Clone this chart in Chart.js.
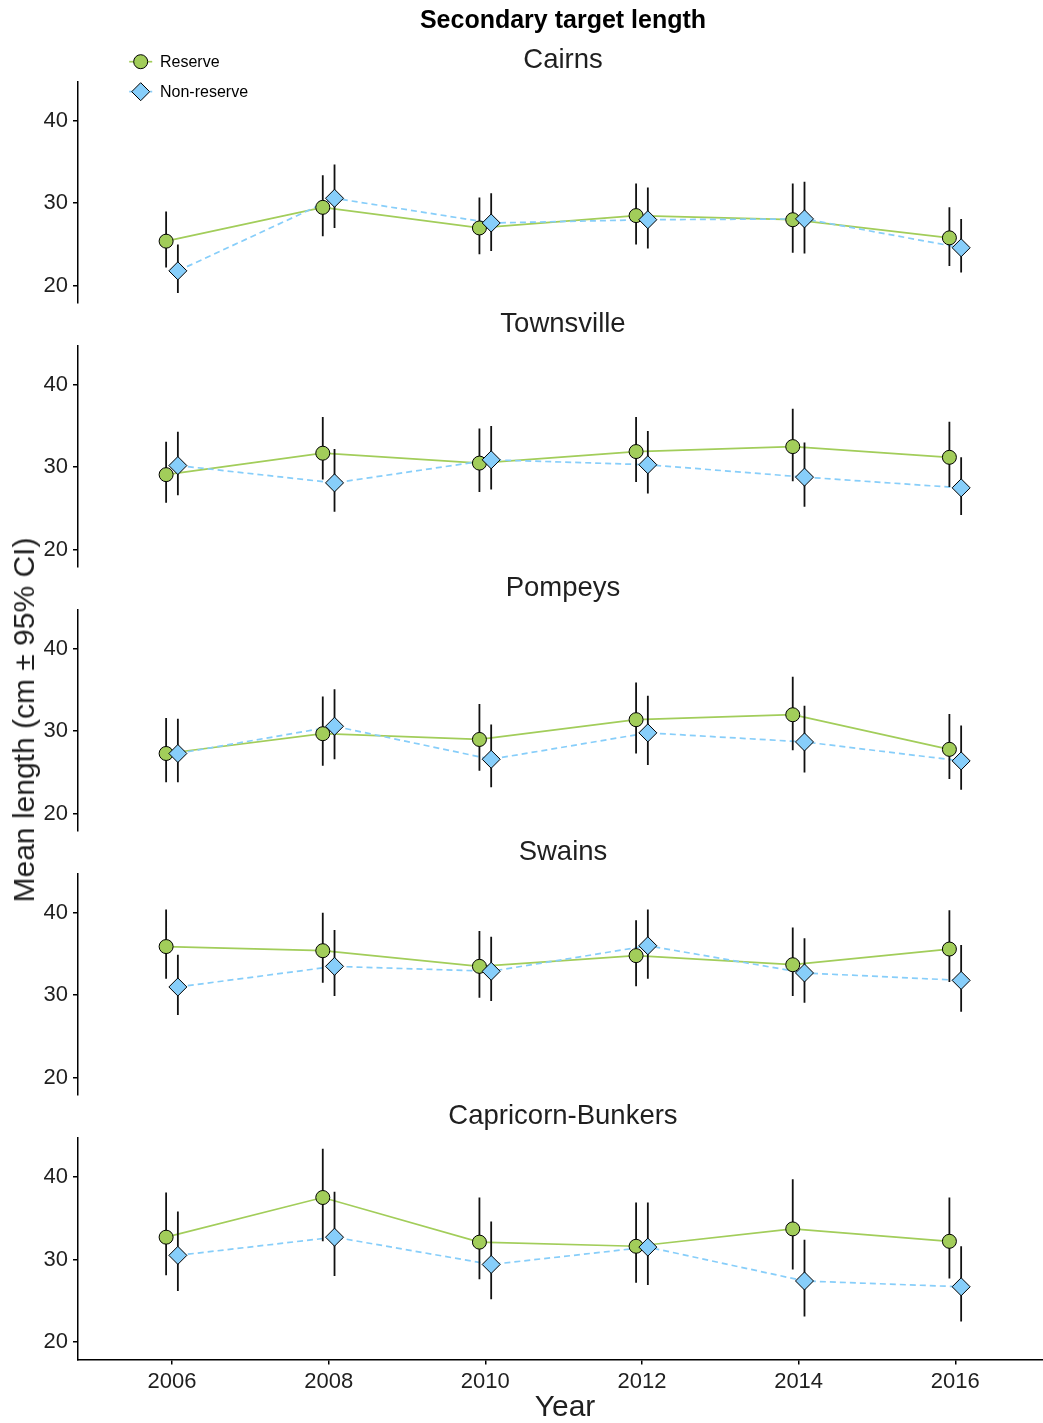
<!DOCTYPE html>
<html>
<head>
<meta charset="utf-8">
<title>Secondary target length</title>
<script src="https://cdn.jsdelivr.net/npm/chart.js@4.4.1/dist/chart.umd.min.js"></script>
<style>
  html, body { margin: 0; padding: 0; background: #fff; }
  #fig { position: relative; width: 1043px; height: 1423px; overflow: hidden;
         font-family: 'Liberation Sans', Arial, Helvetica, sans-serif; color: #000; background: #fff; }
  #fig canvas { position: absolute; left: 0; }
  .txt { position: absolute; white-space: nowrap; }
</style>
</head>
<body>
<div id="fig"></div>
<script>
// ---- data -------------------------------------------------------------
const years = [2006, 2008, 2010, 2012, 2014, 2016];
const lengthTicks = [20, 30, 40];
const regionNames = ['Cairns', 'Townsville', 'Pompeys', 'Swains', 'Capricorn-Bunkers'];
const seriesNames = ['Reserve', 'Non-reserve'];

// mean length (cm) with lower / upper 95% CI, per region and zoning
const cairnsReserve      = [25.4, 29.5, 27.0, 28.5, 28.0, 25.8];
const cairnsReserveLo    = [22.2, 26.0, 23.8, 25.0, 24.0, 22.4];
const cairnsReserveHi    = [29.0, 33.4, 30.7, 32.4, 32.4, 29.5];
const cairnsNonReserve   = [21.8, 30.6, 27.6, 28.0, 28.1, 24.6];
const cairnsNonReserveLo = [19.1, 27.0, 24.2, 24.5, 23.9, 21.6];
const cairnsNonReserveHi = [25.0, 34.7, 31.2, 31.9, 32.6, 28.1];

const townsvilleReserve      = [29.1, 31.7, 30.5, 31.9, 32.5, 31.2];
const townsvilleReserveLo    = [25.7, 28.5, 27.0, 28.2, 28.3, 27.6];
const townsvilleReserveHi    = [33.1, 36.1, 34.7, 36.1, 37.1, 35.5];
const townsvilleNonReserve   = [30.2, 28.1, 30.9, 30.3, 28.8, 27.5];
const townsvilleNonReserveLo = [26.6, 24.6, 27.3, 26.8, 25.2, 24.2];
const townsvilleNonReserveHi = [34.3, 32.2, 35.0, 34.4, 33.0, 31.2];

const pompeysReserve      = [27.3, 29.7, 29.0, 31.4, 32.0, 27.8];
const pompeysReserveLo    = [23.8, 25.8, 25.2, 27.3, 27.7, 24.2];
const pompeysReserveHi    = [31.6, 34.2, 33.3, 35.9, 36.6, 32.1];
const pompeysNonReserve   = [27.3, 30.6, 26.6, 29.8, 28.7, 26.4];
const pompeysNonReserveLo = [23.8, 26.6, 23.2, 25.9, 25.0, 22.9];
const pompeysNonReserveHi = [31.5, 35.1, 30.8, 34.3, 33.1, 30.7];

const swainsReserve      = [35.9, 35.4, 33.5, 34.8, 33.7, 35.6];
const swainsReserveLo    = [32.0, 31.5, 29.7, 31.1, 29.9, 31.6];
const swainsReserveHi    = [40.4, 40.0, 37.8, 39.1, 38.2, 40.3];
const swainsNonReserve   = [31.0, 33.5, 32.9, 36.0, 32.7, 31.8];
const swainsNonReserveLo = [27.6, 29.9, 29.3, 32.0, 29.1, 28.0];
const swainsNonReserveHi = [34.9, 37.9, 37.1, 40.4, 36.9, 36.1];

const capricornReserve      = [32.7, 37.5, 32.1, 31.6, 33.7, 32.2];
const capricornReserveLo    = [28.1, 32.2, 27.6, 27.2, 28.8, 27.7];
const capricornReserveHi    = [38.1, 43.4, 37.5, 36.9, 39.7, 37.5];
const capricornNonReserve   = [30.5, 32.7, 29.4, 31.5, 27.4, 26.7];
const capricornNonReserveLo = [26.2, 28.0, 25.2, 26.9, 23.1, 22.5];
const capricornNonReserveHi = [35.8, 38.2, 34.6, 36.9, 32.4, 31.6];

// ---- layout / style ---------------------------------------------------
const FONT = "'Liberation Sans', Arial, Helvetica, sans-serif";
const GREEN = '#A2CD5A';
const BLUE = '#87CEFA';
const INK = '#1f1f1f';
const Y_MIN = 17.9, Y_MAX = 44.7;
const X_MIN = 2004.8, X_MAX = 2017.12;
const DODGE = 0.075;
const AXIS_LEFT = 78;
const PANEL_TOP = 81.5, PANEL_STEP = 264, PANEL_H = 221, PAD = 12;
const FIG_W = 1043, FIG_H = 1423;

Chart.defaults.font.family = FONT;
Chart.defaults.color = INK;

const panels = [
  { name: regionNames[0], r: [cairnsReserve, cairnsReserveLo, cairnsReserveHi], n: [cairnsNonReserve, cairnsNonReserveLo, cairnsNonReserveHi] },
  { name: regionNames[1], r: [townsvilleReserve, townsvilleReserveLo, townsvilleReserveHi], n: [townsvilleNonReserve, townsvilleNonReserveLo, townsvilleNonReserveHi] },
  { name: regionNames[2], r: [pompeysReserve, pompeysReserveLo, pompeysReserveHi], n: [pompeysNonReserve, pompeysNonReserveLo, pompeysNonReserveHi] },
  { name: regionNames[3], r: [swainsReserve, swainsReserveLo, swainsReserveHi], n: [swainsNonReserve, swainsNonReserveLo, swainsNonReserveHi] },
  { name: regionNames[4], r: [capricornReserve, capricornReserveLo, capricornReserveHi], n: [capricornNonReserve, capricornNonReserveLo, capricornNonReserveHi] }
];

const fig = document.getElementById('fig');

// place a line of text by its centre x and baseline y
function placeText(str, cx, baseline, size, extra) {
  const d = document.createElement('div');
  d.className = 'txt';
  d.textContent = str;
  d.style.fontSize = size + 'px';
  d.style.lineHeight = size + 'px';
  d.style.left = cx + 'px';
  d.style.top = (baseline - 0.8465 * size) + 'px';
  d.style.transform = 'translateX(-50%)';
  Object.assign(d.style, extra || {});
  fig.appendChild(d);
  return d;
}

const points = (xs, ys) => xs.map((x, i) => ({ x: x, y: ys[i] }));
// vertical whiskers: lo -> hi for each year, separated by gaps
function whiskers(xs, lo, hi) {
  const out = [];
  xs.forEach((x, i) => { out.push({ x: x, y: lo[i] }, { x: x, y: hi[i] }, { x: x, y: null }); });
  return out;
}

panels.forEach((p, k) => {
  const last = k === panels.length - 1;
  const axisTop = PANEL_TOP + PANEL_STEP * k;
  const canvasTop = axisTop - PAD;
  const canvasH = last ? (FIG_H - canvasTop) : (PANEL_H + 2 * PAD);
  const xAxisH = last ? (canvasH - PAD - PANEL_H) : 0;

  const cv = document.createElement('canvas');
  cv.width = FIG_W; cv.height = Math.round(canvasH);
  cv.style.top = canvasTop + 'px';
  cv.style.width = FIG_W + 'px'; cv.style.height = Math.round(canvasH) + 'px';
  fig.appendChild(cv);

  const xr = years.map(y => y - DODGE);
  const xn = years.map(y => y + DODGE);

  new Chart(cv, {
    type: 'scatter',
    data: {
      datasets: [
        { type: 'line', label: seriesNames[0] + ' line', data: points(xr, p.r[0]), showLine: true,
          borderColor: GREEN, borderWidth: 1.7, pointRadius: 0, fill: false, order: 5 },
        { type: 'line', label: seriesNames[1] + ' line', data: points(xn, p.n[0]), showLine: true,
          borderColor: BLUE, borderWidth: 1.7, borderDash: [6, 4], pointRadius: 0, fill: false, order: 4 },
        { type: 'line', label: seriesNames[0] + ' CI', data: whiskers(xr, p.r[1], p.r[2]), showLine: true,
          spanGaps: false, borderColor: '#111', borderWidth: 1.8, pointRadius: 0, fill: false, order: 3 },
        { type: 'line', label: seriesNames[1] + ' CI', data: whiskers(xn, p.n[1], p.n[2]), showLine: true,
          spanGaps: false, borderColor: '#111', borderWidth: 1.8, pointRadius: 0, fill: false, order: 2 },
        { label: seriesNames[0], data: points(xr, p.r[0]), showLine: false, pointStyle: 'circle',
          pointRadius: 7, backgroundColor: GREEN, borderColor: '#000', borderWidth: 1, order: 1 },
        { label: seriesNames[1], data: points(xn, p.n[0]), showLine: false, pointStyle: 'rectRot',
          pointRadius: 9, backgroundColor: BLUE, borderColor: '#000', borderWidth: 1, order: 0 }
      ]
    },
    options: {
      responsive: false,
      animation: false,
      events: [],
      layout: { autoPadding: false, padding: { top: PAD, bottom: last ? 0 : PAD, left: 0, right: 0 } },
      plugins: { legend: { display: false }, tooltip: { enabled: false }, title: { display: false } },
      scales: {
        x: {
          type: 'linear', min: X_MIN, max: X_MAX, display: last,
          afterBuildTicks: s => { s.ticks = years.map(v => ({ value: v })); },
          afterFit: s => { s.height = xAxisH; s.paddingLeft = 0; s.paddingRight = 0; },
          border: { display: true, color: '#000', width: 1.5 },
          grid: { display: true, drawOnChartArea: false, drawTicks: true, tickLength: 5, color: '#000', lineWidth: 1.5 },
          ticks: { font: { size: 22 }, color: INK, padding: 4, maxRotation: 0, autoSkip: false,
                   callback: v => String(v) }
        },
        y: {
          type: 'linear', min: Y_MIN, max: Y_MAX,
          afterBuildTicks: s => { s.ticks = lengthTicks.map(v => ({ value: v })); },
          afterFit: s => { s.width = AXIS_LEFT; s.paddingTop = 0; s.paddingBottom = 0; },
          border: { display: true, color: '#000', width: 1.5 },
          grid: { display: true, drawOnChartArea: false, drawTicks: true, tickLength: 5, color: '#000', lineWidth: 1.5 },
          ticks: { font: { size: 22 }, color: INK, padding: 5, callback: v => String(v) }
        }
      }
    }
  });

  // facet strip title
  placeText(p.name, 563, 68.3 + PANEL_STEP * k, 27.5, { color: INK });
});

// figure title and axis titles
placeText('Secondary target length', 563, 28.3, 25, { fontWeight: 'bold' });
placeText('Year', 565, 1416.7, 30, { color: INK });
(function () {
  const d = document.createElement('div');
  d.className = 'txt';
  d.textContent = 'Mean length (cm \u00B1 95% CI)';
  d.style.fontSize = '30px';
  d.style.lineHeight = '30px';
  d.style.color = INK;
  d.style.left = '23.6px';
  d.style.top = '720px';
  d.style.transform = 'translate(-50%, -50%) rotate(-90deg)';
  fig.appendChild(d);
})();

// legend
(function () {
  const ns = 'http://www.w3.org/2000/svg';
  const svg = document.createElementNS(ns, 'svg');
  svg.setAttribute('width', '60'); svg.setAttribute('height', '60');
  svg.style.position = 'absolute'; svg.style.left = '110px'; svg.style.top = '46px';
  const add = (tag, attrs) => { const e = document.createElementNS(ns, tag);
    Object.keys(attrs).forEach(a => e.setAttribute(a, attrs[a])); svg.appendChild(e); };
  const cx = 30.7;
  add('line', { x1: cx - 11.5, y1: 15.7, x2: cx + 11.5, y2: 15.7, stroke: GREEN, 'stroke-width': 1.7 });
  add('circle', { cx: cx, cy: 15.7, r: 7, fill: GREEN, stroke: '#000', 'stroke-width': 1 });
  add('line', { x1: cx - 11.5, y1: 45.7, x2: cx + 11.5, y2: 45.7, stroke: BLUE, 'stroke-width': 1.7, 'stroke-dasharray': '4 3' });
  add('polygon', { points: `${cx},${45.7 - 9} ${cx + 9},45.7 ${cx},${45.7 + 9} ${cx - 9},45.7`, fill: BLUE, stroke: '#000', 'stroke-width': 1 });
  fig.appendChild(svg);
  placeText(seriesNames[0], 0, 67.7, 16, { transform: 'none', left: '160px' });
  placeText(seriesNames[1], 0, 97.7, 16, { transform: 'none', left: '160px' });
})();
</script>
</body>
</html>
